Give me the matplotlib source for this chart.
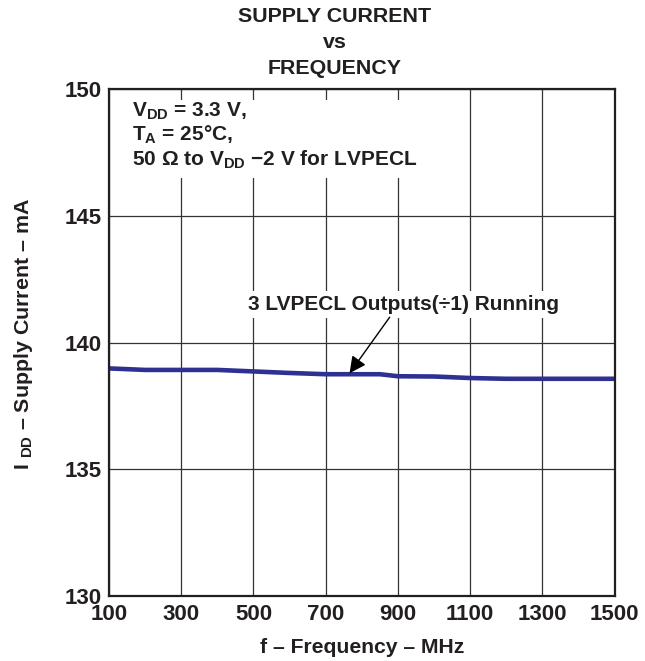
import numpy as np
import matplotlib
matplotlib.use("Agg")
import matplotlib.pyplot as plt
from matplotlib.patches import Rectangle

# supply current vs frequency
freq_mhz = [100, 200, 300, 400, 500, 600, 700, 800, 850, 900, 1000, 1100, 1200, 1300, 1400, 1500]
idd_ma = [138.98, 138.92, 138.92, 138.92, 138.86, 138.80, 138.75, 138.75, 138.75,
          138.67, 138.66, 138.60, 138.57, 138.57, 138.57, 138.57]
x_ticks = [100, 300, 500, 700, 900, 1100, 1300, 1500]
y_ticks = [130, 135, 140, 145, 150]

plt.rcParams["font.family"] = ["Liberation Sans", "DejaVu Sans"]
plt.rcParams["font.weight"] = "bold"
plt.rcParams["mathtext.fontset"] = "custom"
for k in ("rm", "it", "bf", "sf"):
    plt.rcParams["mathtext." + k] = "Liberation Sans:bold"

ink = "#231f20"
fig = plt.figure(figsize=(6.45, 6.61), dpi=100, facecolor="white")
ax = fig.add_axes([0.1690, 0.0985, 0.7840, 0.7665])

ax.plot(freq_mhz, idd_ma, color="#2e3192", lw=3.3, solid_capstyle="butt", zorder=5)
ax.set_xlim(100, 1500); ax.set_ylim(130, 150)
ax.set_xticks(x_ticks); ax.set_yticks(y_ticks)
ax.tick_params(length=0, labelsize=16, colors=ink, pad=5)
ax.tick_params(axis="x", pad=6)
for lab in ax.get_xticklabels() + ax.get_yticklabels():
    lab.set_fontweight("bold")
ax.grid(color="#333333", lw=0.9, zorder=1)
for sp in ax.spines.values():
    sp.set_linewidth(1.6); sp.set_color(ink); sp.set_zorder(6)

# conditions block, white box hides grid lines behind it
ax.add_patch(Rectangle((0.032, 0.825), 0.60, 0.154, transform=ax.transAxes,
                       facecolor="white", edgecolor="none", zorder=2))
cond = [r"V$_{\mathrm{DD}}$ = 3.3 V,", r"T$_{\mathrm{A}}$ = 25°C,",
        r"50 Ω to V$_{\mathrm{DD}}$ −2 V for LVPECL"]
for s, yy in zip(cond, [0.946, 0.898, 0.849]):
    ax.text(0.045, yy, s, transform=ax.transAxes, fontsize=15, fontweight="bold",
            color=ink, va="baseline", ha="left", zorder=3)

ax.text(915, 141.5, "3 LVPECL Outputs(÷1) Running", fontsize=15, fontweight="bold",
        color=ink, ha="center", va="center", zorder=3,
        bbox=dict(facecolor="white", edgecolor="none", pad=3))
ax.annotate("", xy=(766, 138.79), xytext=(877, 141.0),
            arrowprops=dict(arrowstyle="-|>,head_length=0.5,head_width=0.25",
                            color="black", lw=1, mutation_scale=20,
                            shrinkA=0, shrinkB=0), zorder=7)

fig.text(0.519, 0.967, "SUPPLY CURRENT", fontsize=15.4, fontweight="bold", color=ink,
         ha="center", va="baseline")
fig.text(0.519, 0.927, "vs", fontsize=15.4, fontweight="bold", color=ink,
         ha="center", va="baseline")
fig.text(0.519, 0.888, "FREQUENCY", fontsize=15.4, fontweight="bold", color=ink,
         ha="center", va="baseline")

fig.text(0.561, 0.0121, "f – Frequency – MHz", fontsize=15.2, fontweight="bold",
         color=ink, ha="center", va="baseline")
fig.text(0.036, 0.495, r"I $_{\mathrm{DD}}$ – Supply Current – mA", fontsize=15.4,
         fontweight="bold", color=ink, ha="center", va="center", rotation=90)

fig.savefig("out.png", dpi=100, facecolor="white")
